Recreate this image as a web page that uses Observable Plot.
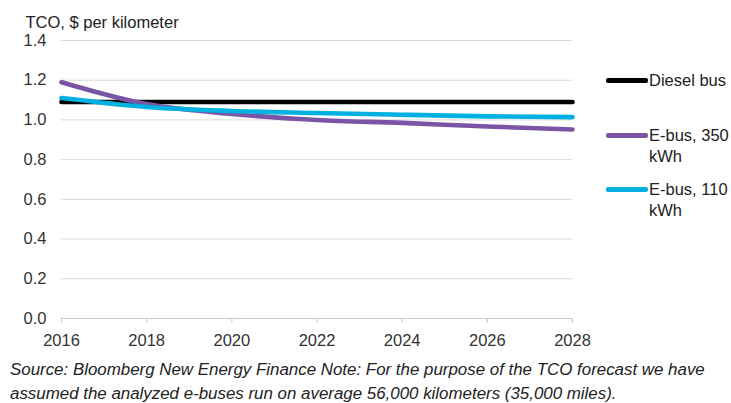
<!DOCTYPE html>
<html>
<head>
<meta charset="utf-8">
<script src="https://cdn.jsdelivr.net/npm/d3@7"></script>
<script src="https://cdn.jsdelivr.net/npm/@observablehq/plot@0.6"></script>
<style>
  body { margin: 0; background: #fff; }
  #wrap { position: relative; width: 731px; height: 403px; overflow: hidden; font-family: "Liberation Sans", Arial, sans-serif; color: #222; }
  #caption { font-style: italic; font-size: 16.9px; line-height: 23.5px; padding: 6px 0 0 10px; color: #222; white-space: nowrap; }
  .key { position: absolute; left: 606px; display: flex; align-items: flex-start; font-size: 16.5px; line-height: 21px; }
  .key .swatch { width: 42px; height: 5px; margin-top: 8px; flex: none; border-radius: 2px; }
  .key .label { margin-left: 1px; }
</style>
</head>
<body>
<div id="wrap"></div>
<script>
// Total cost of ownership, $ per kilometer
const years = [2016, 2018, 2020, 2022, 2024, 2026, 2028];
const dieselBus = [1.09, 1.09, 1.09, 1.09, 1.09, 1.09, 1.09];
const eBus350 = [1.19, 1.08, 1.03, 1.0, 0.985, 0.967, 0.952];
const eBus110 = [1.11, 1.065, 1.045, 1.035, 1.026, 1.018, 1.014];

const seriesNames = ["Diesel bus", "E-bus, 350\nkWh", "E-bus, 110\nkWh"];
const seriesValues = [dieselBus, eBus350, eBus110];
const seriesColors = ["#000000", "#7B55A5", "#00B0E0"];

const yTicks = [0, 0.2, 0.4, 0.6, 0.8, 1.0, 1.2, 1.4];
const xTicks = [2016, 2018, 2020, 2022, 2024, 2026, 2028];
const titleText = "TCO, $ per kilometer";
const captionLines = [
  "Source: Bloomberg New Energy Finance Note: For the purpose of the TCO forecast we have",
  "assumed the analyzed e-buses run on average 56,000 kilometers (35,000 miles)."
];

const rows = seriesNames.flatMap((name, i) =>
  years.map((year, j) => ({series: name, year, value: seriesValues[i][j]}))
);

const chart = Plot.plot({
  width: 731,
  height: 352,
  marginLeft: 61,
  marginRight: 159,
  marginTop: 40,
  marginBottom: 34,
  style: {fontFamily: "\"Liberation Sans\", Arial, sans-serif", fontSize: "16.5px", color: "#222", background: "#fff"},
  x: {domain: [2016, 2028]},
  y: {domain: [0, 1.4]},
  color: {domain: seriesNames, range: seriesColors},
  marks: [
    Plot.ruleY(yTicks.filter(d => d > 0), {stroke: "#d9d9d9", strokeWidth: 1}),
    Plot.ruleY([0], {stroke: "#c8c8c8", strokeWidth: 1}),
    Plot.axisY({ticks: yTicks, tickFormat: d3.format(".1f"), tickSize: 0, tickPadding: 15, fill: "#333", label: null}),
    Plot.axisX({ticks: xTicks, tickFormat: d => String(d), tickSize: 5, tickPadding: 11, stroke: "#c8c8c8", fill: "#333", label: null}),
    Plot.line(rows, {x: "year", y: "value", z: "series", stroke: "series", strokeWidth: 4.6, curve: "monotone-x"}),
    Plot.text([titleText], {frameAnchor: "top-left", lineAnchor: "middle", dx: -36, dy: -18, textAnchor: "start", fill: "#222", fontSize: 16.5})
  ]
});

const wrap = document.getElementById("wrap");
wrap.appendChild(chart);

const caption = document.createElement("div");
caption.id = "caption";
caption.innerHTML = captionLines.join("<br>");
wrap.appendChild(caption);

// Legend: line swatch + wrapped label, stacked on the right
const keyTops = [69.5, 124.5, 178.5];
seriesNames.forEach((name, i) => {
  const key = document.createElement("div");
  key.className = "key";
  key.style.top = keyTops[i] + "px";
  const sw = document.createElement("div");
  sw.className = "swatch";
  sw.style.background = seriesColors[i];
  const lab = document.createElement("div");
  lab.className = "label";
  lab.innerHTML = name.split("\n").join("<br>");
  key.appendChild(sw);
  key.appendChild(lab);
  wrap.appendChild(key);
});
</script>
</body>
</html>
